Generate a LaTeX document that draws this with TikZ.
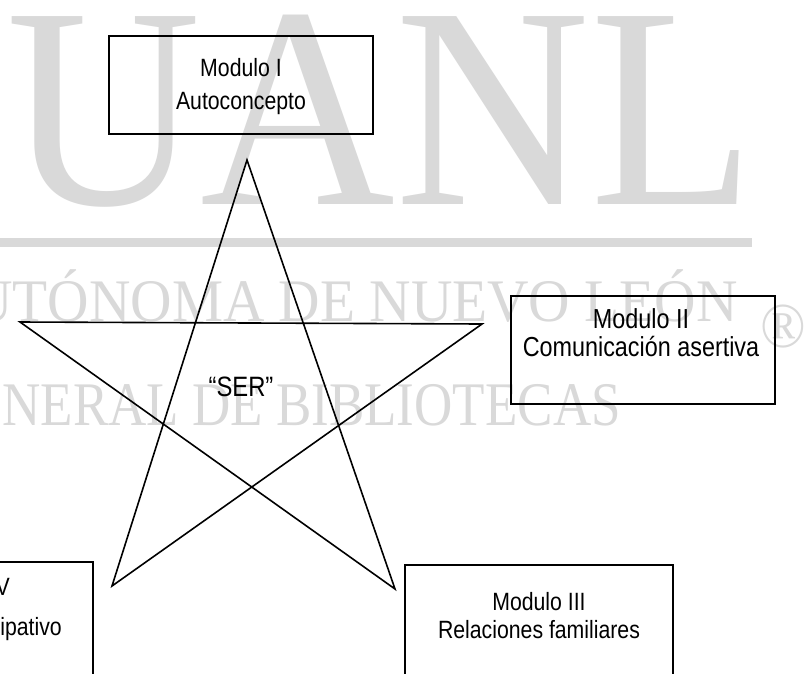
\documentclass[tikz,border=0pt]{standalone}
\usepackage{fontspec}
\setmainfont{Liberation Sans}[FakeStretch=0.85]
\newfontfamily\wmwide{Liberation Serif}[FakeStretch=0.94]
\newfontfamily\wmmid{Liberation Serif}[FakeStretch=0.95]
\newfontfamily\wmnarrow{Liberation Serif}[FakeStretch=0.855]
\usetikzlibrary{positioning}
\definecolor{wmgray}{RGB}{217,217,217}

\begin{document}
\begin{tikzpicture}[x=1pt, y=-1pt,
  modbox/.style={draw, line width=1.6pt, minimum width=264pt, minimum height=98pt, inner sep=0pt},
  modtext/.style={align=center, inner sep=0pt, font=\fontsize{25}{28}\selectfont},
  wmtext/.style={text=wmgray, inner sep=0pt},
  starline/.style={line width=1.6pt, line join=miter}
]
  \useasboundingbox (0,0) rectangle (804,673);
  \clip (0,0) rectangle (804,673);
  \fill[white] (0,0) rectangle (804,673);

  % watermark
  \node[wmtext, anchor=base west, font=\wmwide\fontsize{287}{287}\selectfont] (uanl) at (6,204) {UANL};
  \fill[wmgray] (0,238) rectangle (752,247);
  \node[wmtext, anchor=base east, font=\wmmid\fontsize{60.4}{60}\selectfont] (wmline1) at (738,321) {AUTÓNOMA DE NUEVO LEÓN};
  \node[wmtext, anchor=base east, font=\wmnarrow\fontsize{62}{62}\selectfont] (wmline2) at (621,425) {GENERAL DE BIBLIOTECAS};
  \node[wmtext, font=\wmwide\fontsize{64}{64}\selectfont] (wmreg) at (783,327) {\textregistered};

  % star
  \coordinate (ptop) at (247,160);
  \coordinate (pleft) at (20,322);
  \coordinate (pright) at (482,324);
  \coordinate (pbl) at (112,586);
  \coordinate (pbr) at (395,589);
  \draw[starline] (ptop) -- (pbl) -- (pright) -- (pleft) -- (pbr) -- cycle;
  \node[font=\fontsize{28}{30}\selectfont, inner sep=0pt] (ser) at (241,387) {``SER''};

  % modules
  \node[modbox] (m1) at (241,85) {};
  \node[modtext, font=\fontsize{25}{33}\selectfont] (m1text) at (241,87) {Modulo I\\Autoconcepto};

  \node[modbox, minimum height=108pt] (m2) at (643,350) {};
  \node[modtext, font=\fontsize{27.5}{28}\selectfont] (m2text) at (641,333) {Modulo II\\Comunicación asertiva};

  \node[modbox, minimum width=268pt, minimum height=135pt] (m3) at (539,632.5) {};
  \node[modtext] (m3text) at (539,616) {Modulo III\\Relaciones familiares};

  \node[modbox, minimum width=258pt, minimum height=138pt] (m4) at (-36,631) {};
  \node[modtext, anchor=base east] (m4line1) at (10,595) {Modulo IV};
  \node[modtext, anchor=base east] (m4line2) at (62,635) {Participativo};
\end{tikzpicture}
\end{document}
